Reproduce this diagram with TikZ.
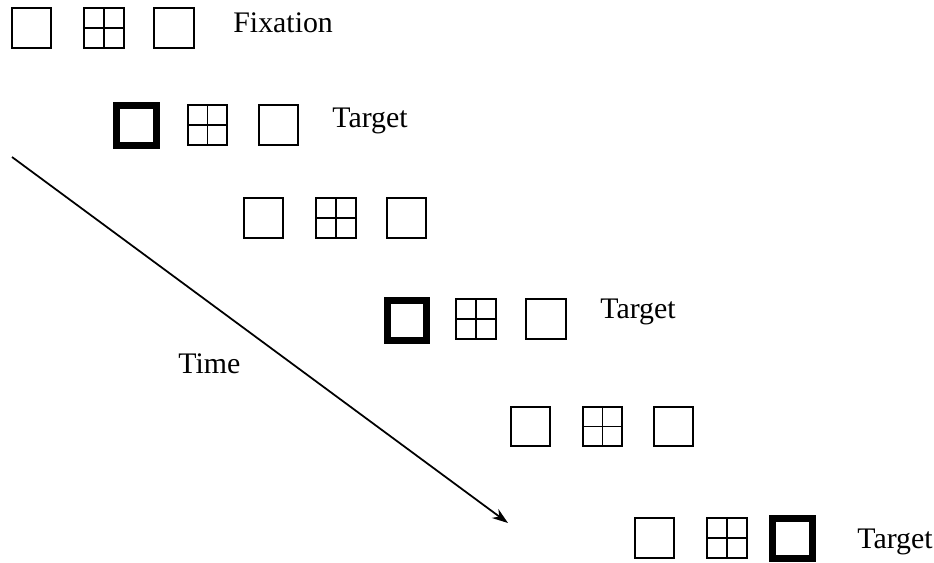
\documentclass[tikz,border=0pt]{standalone}
\usepackage{fontspec}
\setmainfont{Liberation Serif}
\usetikzlibrary{arrows.meta}

\begin{document}
\begin{tikzpicture}[
    x=0.02cm, y=-0.02cm,
    font=\fontsize{17}{20}\selectfont,
    plainbox/.style={draw=black, line width=1pt, rectangle, minimum size=0.79cm, inner sep=0pt},
    gridbox/.style={plainbox, path picture={
        \draw[line width=1pt] (path picture bounding box.north) -- (path picture bounding box.south);
        \draw[line width=1pt] (path picture bounding box.west) -- (path picture bounding box.east);}},
    cuebox/.style={draw=black, line width=0.14cm, rectangle, minimum size=0.8cm, inner sep=0pt, outer sep=0pt},
    label/.style={anchor=base west, inner sep=0pt},
    arrow/.style={-{Stealth[length=0.32cm, width=0.22cm]}, line width=1pt, black}
]
\useasboundingbox (0,0) rectangle (934,562);

% Fixation display
\node[plainbox] (f1) at (31.5,28) {};
\node[gridbox]  (f2) at (104,28) {};
\node[plainbox] (f3) at (174,28) {};
\node[label] (fix) at (233,32) {Fixation};

% Target left
\node[cuebox]   (a1) at (136.5,125) {};
\node[gridbox]  (a2) at (207.5,125) {};
\node[plainbox] (a3) at (278.5,125) {};
\node[label] (ta) at (332,127) {Target};

% Blank
\node[plainbox] (b1) at (263.5,218) {};
\node[gridbox]  (b2) at (336,218) {};
\node[plainbox] (b3) at (406.5,218) {};

% Target left again
\node[cuebox]   (c1) at (407,320) {};
\node[gridbox]  (c2) at (476,319) {};
\node[plainbox] (c3) at (546,319) {};
\node[label] (tc) at (600,318) {Target};

% Blank
\node[plainbox] (d1) at (530.5,426.5) {};
\node[gridbox]  (d2) at (602.5,426.5) {};
\node[plainbox] (d3) at (673.5,426.5) {};

% Target right
\node[plainbox] (e1) at (654.5,538) {};
\node[gridbox]  (e2) at (727,538) {};
\node[cuebox]   (e3) at (792.5,538) {};
\node[label] (te) at (857,548) {Target};

% Time axis
\coordinate (tstart) at (12,157);
\coordinate (tend) at (508,523);
\draw[arrow] (tstart) -- (tend);
\node[label] (time) at (178,373) {Time};

\end{tikzpicture}
\end{document}
